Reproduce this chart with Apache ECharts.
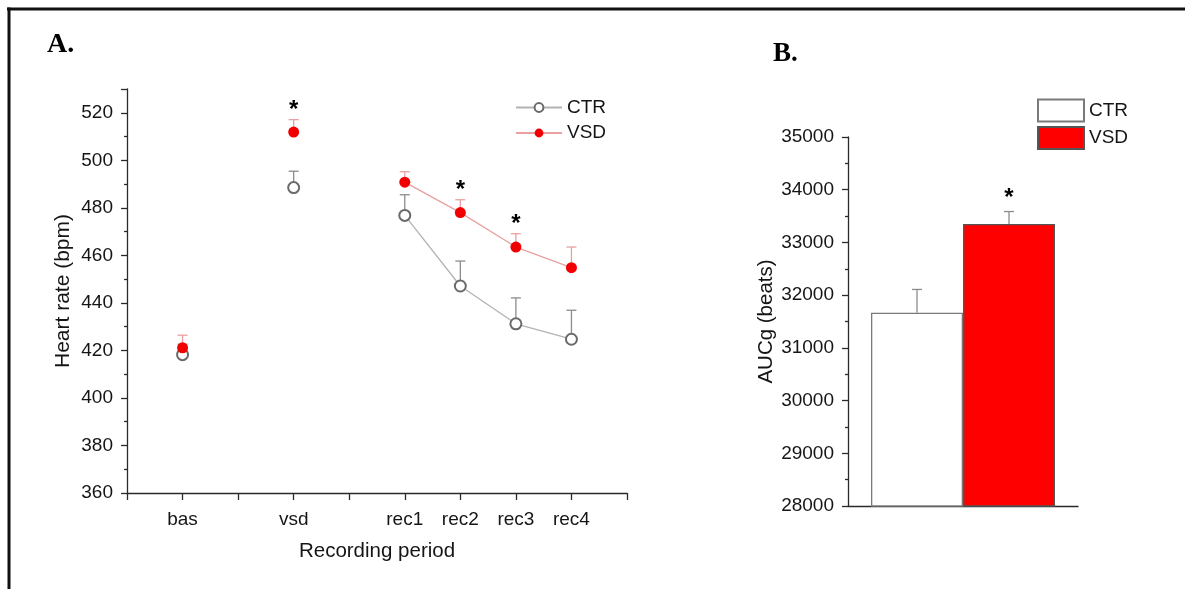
<!DOCTYPE html>
<html>
<head>
<meta charset="utf-8">
<script src="https://cdn.jsdelivr.net/npm/echarts@6/dist/echarts.min.js"></script>
<style>
html,body{margin:0;padding:0;background:#fff;}
#c{width:1185px;height:589px;}
</style>
</head>
<body>
<div id="c"></div>
<script>
// ---- Panel A data: heart rate per recording period ----
const periods = ['bas', 'vsd', 'rec1', 'rec2', 'rec3', 'rec4'];
const periodSlot = [1, 3, 5, 6, 7, 8];            // position of each period on the x scale (0..9)
const ctrHR = [418.2, 488.5, 476.8, 447.1, 431.2, 424.7];
const ctrSEM = [4.4, 6.9, 8.7, 10.5, 10.9, 12.2];
const vsdHR = [421.1, 511.9, 490.8, 478.0, 463.5, 454.8];
const vsdSEM = [5.3, 5.2, 4.4, 5.4, 5.6, 8.7];
const hrSig = [false, true, false, true, true, false];
const hrTicks = [360, 380, 400, 420, 440, 460, 480, 500, 520];

// ---- Panel B data: AUCg ----
const aucGroups = ['CTR', 'VSD'];
const aucMean = [31665, 33351];
const aucSEM = [443, 235];
const aucSig = [false, true];
const aucTicks = [28000, 29000, 30000, 31000, 32000, 33000, 34000, 35000];

const FONT = 'Liberation Sans, Arial, Helvetica, sans-serif';
const TXT = '#151515';
const AX = '#2a2a2a';
const RED = '#f00000';
const PINK = '#e8a0a0';
const GREY_LINE = '#b3b3b3';
const GREY_MK = '#6a6a6a';
const GREY_ERR = '#8c8c8c';

function withBreaks(values) {
  const out = [];
  values.forEach((v, i) => {
    if (i > 0 && periodSlot[i] - periodSlot[i - 1] > 1) out.push(['-', '-']);
    out.push([periodSlot[i], v]);
  });
  return out;
}

function errSeriesA(means, sems, color, withStar) {
  return {
    type: 'custom', xAxisIndex: 0, yAxisIndex: 0, z: 1, silent: true,
    encode: { x: 0, y: [1, 2] },
    data: means.map((m, i) => [periodSlot[i], m, m + sems[i], withStar && hrSig[i] ? 1 : 0]),
    renderItem(params, api) {
      const x = api.value(0), m = api.value(1), t = api.value(2);
      const p0 = api.coord([x, m]), p1 = api.coord([x, t]);
      const cap = 5;
      const ch = [
        { type: 'line', shape: { x1: p0[0], y1: p0[1], x2: p1[0], y2: p1[1] }, style: { stroke: color, lineWidth: 1.3 } },
        { type: 'line', shape: { x1: p1[0] - cap, y1: p1[1], x2: p1[0] + cap, y2: p1[1] }, style: { stroke: color, lineWidth: 1.3 } }
      ];
      if (api.value(3) === 1) {
        ch.push({ type: 'text', style: { text: '*', x: p1[0], y: p1[1] - 9, align: 'center', verticalAlign: 'middle',
          font: 'bold 24px ' + FONT, fill: '#000' } });
      }
      return { type: 'group', children: ch };
    }
  };
}

const chart = echarts.init(document.getElementById('c'), null, { renderer: 'canvas' });

const axisLineStyle = { color: AX, width: 1.3 };
const labelStyle = { color: TXT, fontSize: 19, fontFamily: FONT };
const nameStyle = { color: TXT, fontSize: 20.5, fontFamily: FONT };

const option = {
  backgroundColor: '#fff',
  animation: false,
  textStyle: { fontFamily: FONT },
  grid: [
    { left: 127, top: 89, width: 500, height: 404 },
    { left: 848, top: 137, width: 230, height: 369 }
  ],
  xAxis: [
    {
      type: 'value', gridIndex: 0, min: 0, max: 9, interval: 1,
      name: 'Recording period', nameLocation: 'middle', nameGap: 48,
      nameTextStyle: nameStyle,
      axisLine: { show: true, lineStyle: axisLineStyle },
      axisTick: { show: true, inside: false, length: 7, lineStyle: axisLineStyle },
      axisLabel: Object.assign({ margin: 17, formatter: v => { const i = periodSlot.indexOf(v); return i >= 0 ? periods[i] : ''; } }, labelStyle),
      splitLine: { show: false }
    },
    {
      type: 'category', gridIndex: 1, data: [''],
      axisLine: { show: true, lineStyle: axisLineStyle },
      axisTick: { show: false }, axisLabel: { show: false }, splitLine: { show: false }
    }
  ],
  yAxis: [
    {
      type: 'value', gridIndex: 0, min: 360, max: 530, interval: 20,
      name: 'Heart rate (bpm)', nameLocation: 'middle', nameGap: 53,
      nameTextStyle: { color: TXT, fontSize: 21, fontFamily: FONT },
      axisLine: { show: true, lineStyle: axisLineStyle },
      axisTick: { show: true, length: 6, lineStyle: axisLineStyle },
      minorTick: { show: true, splitNumber: 2, length: 3, lineStyle: axisLineStyle },
      axisLabel: Object.assign({ margin: 14, formatter: v => hrTicks.indexOf(v) >= 0 ? String(v) : '' }, labelStyle),
      splitLine: { show: false }, minorSplitLine: { show: false }
    },
    {
      type: 'value', gridIndex: 1, min: 28000, max: 35000, interval: 1000,
      name: 'AUCg (beats)', nameLocation: 'middle', nameGap: 71,
      nameTextStyle: nameStyle,
      axisLine: { show: true, lineStyle: axisLineStyle },
      axisTick: { show: true, length: 6, lineStyle: axisLineStyle },
      minorTick: { show: true, splitNumber: 2, length: 3, lineStyle: axisLineStyle },
      axisLabel: Object.assign({ margin: 14, formatter: v => aucTicks.indexOf(v) >= 0 ? String(v) : '' }, labelStyle),
      splitLine: { show: false }, minorSplitLine: { show: false }
    }
  ],
  legend: [
    {
      data: ['CTR', 'VSD'], orient: 'vertical', left: 515, top: 98, padding: 0,
      itemWidth: 46, itemHeight: 11, itemGap: 6.5, selectedMode: false,
      textStyle: { color: TXT, fontSize: 19, fontFamily: FONT }
    },
    {
      data: aucGroups.map(g => g + ' · AUCg'), orient: 'vertical', left: 1037, top: 98.5, padding: 0,
      icon: 'rect',
      itemWidth: 46, itemHeight: 22, itemGap: 3.5, selectedMode: false,
      formatter: n => n.split(' ·')[0],
      textStyle: { color: TXT, fontSize: 19, fontFamily: FONT }
    }
  ],
  series: [
    errSeriesA(ctrHR, ctrSEM, GREY_ERR, false),
    errSeriesA(vsdHR, vsdSEM, PINK, true),
    {
      name: 'CTR', type: 'line', xAxisIndex: 0, yAxisIndex: 0, z: 3,
      data: withBreaks(ctrHR), connectNulls: false,
      symbol: 'emptyCircle', symbolSize: 11, showSymbol: true, showAllSymbol: true,
      lineStyle: { color: GREY_LINE, width: 1.3 },
      itemStyle: { color: GREY_MK, borderColor: GREY_MK, borderWidth: 1.3 }
    },
    {
      name: 'VSD', type: 'line', xAxisIndex: 0, yAxisIndex: 0, z: 4,
      data: withBreaks(vsdHR), connectNulls: false,
      symbol: 'circle', symbolSize: 11, showSymbol: true, showAllSymbol: true,
      lineStyle: { color: PINK, width: 1.3 },
      itemStyle: { color: RED }
    },
    {
      name: aucGroups[0] + ' · AUCg', type: 'bar', xAxisIndex: 1, yAxisIndex: 1,
      data: [aucMean[0]], barWidth: '40%', barGap: '0%',
      itemStyle: { color: '#ffffff', borderColor: '#7a7a7a', borderWidth: 1.3 }
    },
    {
      name: aucGroups[1] + ' · AUCg', type: 'bar', xAxisIndex: 1, yAxisIndex: 1,
      data: [aucMean[1]], barWidth: '40%', barGap: '0%',
      itemStyle: { color: '#ff0000', borderColor: '#555555', borderWidth: 1.3 }
    },
    {
      type: 'custom', xAxisIndex: 1, yAxisIndex: 1, z: 1, silent: true,
      encode: { y: [1, 2] },
      data: aucMean.map((m, i) => [0, m, m + aucSEM[i], i, aucSig[i] ? 1 : 0]),
      renderItem(params, api) {
        const m = api.value(1), t = api.value(2), i = api.value(3);
        const band = api.size([1, 0])[0];
        const cx = api.coord([0, m])[0] + (i - 0.5) * band * 0.4;
        const y0 = api.coord([0, m])[1], y1 = api.coord([0, t])[1];
        const cap = 5;
        const ch = [
          { type: 'line', shape: { x1: cx, y1: y0, x2: cx, y2: y1 }, style: { stroke: GREY_ERR, lineWidth: 1.3 } },
          { type: 'line', shape: { x1: cx - cap, y1: y1, x2: cx + cap, y2: y1 }, style: { stroke: GREY_ERR, lineWidth: 1.3 } }
        ];
        if (api.value(4) === 1) {
          ch.push({ type: 'text', style: { text: '*', x: cx, y: y1 - 13, align: 'center', verticalAlign: 'middle',
            font: 'bold 24px ' + FONT, fill: '#000' } });
        }
        return { type: 'group', children: ch };
      }
    }
  ],
  graphic: [
    { type: 'line', silent: true, shape: { x1: 7, y1: 9, x2: 1185, y2: 9 }, style: { stroke: '#111', lineWidth: 3 } },
    { type: 'line', silent: true, shape: { x1: 9, y1: 7.5, x2: 9, y2: 589 }, style: { stroke: '#111', lineWidth: 3 } },
    { type: 'text', silent: true, left: 47, top: 31, style: { text: 'A.', font: 'bold 28px "Liberation Serif", "Times New Roman", serif', fill: '#000' } },
    { type: 'text', silent: true, left: 773, top: 41, style: { text: 'B.', font: 'bold 27px "Liberation Serif", "Times New Roman", serif', fill: '#000' } }
  ]
};

chart.setOption(option);
</script>
</body>
</html>
